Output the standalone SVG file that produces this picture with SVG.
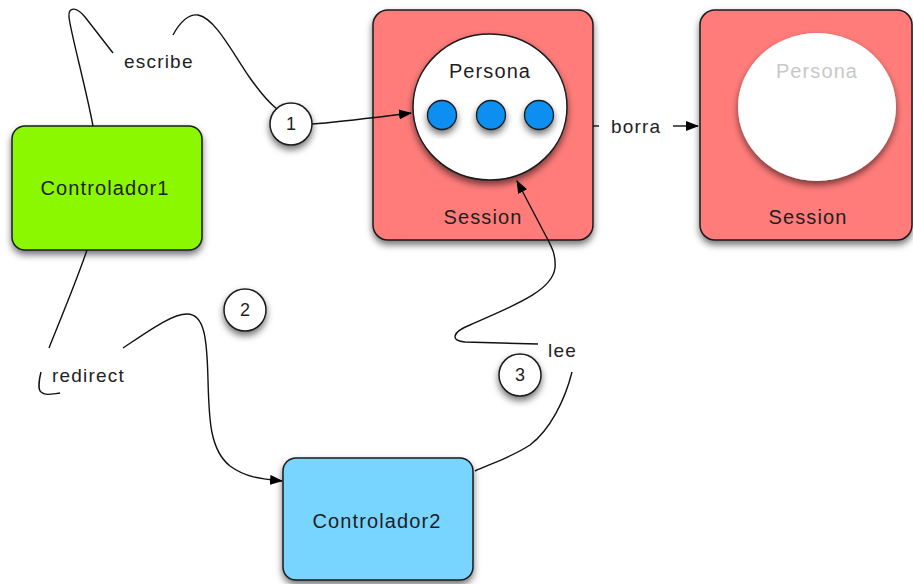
<svg xmlns="http://www.w3.org/2000/svg" width="913" height="584" viewBox="0 0 913 584">
<defs>
<filter id="sh" x="-20%" y="-20%" width="140%" height="150%">
<feDropShadow dx="0" dy="4" stdDeviation="3.5" flood-color="#000" flood-opacity="0.55"/>
</filter>
<marker id="arr" markerWidth="13" markerHeight="10" refX="12" refY="5" orient="auto" markerUnits="userSpaceOnUse">
<path d="M0,0 L13,5 L0,10 Z" fill="#000"/>
</marker>
<style>
.box{stroke:#1a1a1a;stroke-width:1.5;filter:url(#sh)}
.t{font-family:"Liberation Sans",Arial,sans-serif;font-size:20px;letter-spacing:1.1px;fill:#1e1e1e;text-anchor:middle}
.lbl{font-family:"Liberation Sans",Arial,sans-serif;font-size:19px;letter-spacing:1.2px;fill:#222}
.num{font-family:"Liberation Sans",Arial,sans-serif;font-size:18px;fill:#1e1e1e;text-anchor:middle}
.c{fill:none;stroke:#111;stroke-width:1.4}
.nc{fill:#fff;stroke:#1a1a1a;stroke-width:1.5;filter:url(#sh)}
.dot{fill:#0a8ff2;stroke:#1a1a1a;stroke-width:1.3;filter:url(#sh)}
</style>
</defs>
<rect width="913" height="584" fill="#fff"/>

<g id="controlador1">
<rect class="box" x="12" y="126" width="190" height="124" rx="13" fill="#8cf800"/>
<text class="t" x="105" y="195">Controlador1</text>
</g>

<g id="controlador2">
<rect class="box" x="283" y="458" width="190" height="122" rx="13" fill="#78d5ff"/>
<text class="t" x="377" y="528">Controlador2</text>
</g>

<g id="session1">
<rect class="box" x="373" y="10" width="220" height="230" rx="15" fill="#ff7c7a"/>
<ellipse class="nc" cx="490" cy="107" rx="77" ry="73"/>
<text class="t" x="490" y="78">Persona</text>
<circle class="dot" cx="442" cy="115" r="14.5"/>
<circle class="dot" cx="491" cy="115" r="14.5"/>
<circle class="dot" cx="539" cy="115" r="14.5"/>
<text class="t" x="483" y="224">Session</text>
</g>

<g id="session2">
<rect class="box" x="700" y="10" width="212" height="230" rx="15" fill="#ff7c7a"/>
<ellipse cx="817" cy="107" rx="79" ry="74" fill="#fff" filter="url(#sh)"/>
<text class="t" x="817" y="78" style="fill:#c8c8c8">Persona</text>
<text class="t" x="808" y="224">Session</text>
</g>

<g id="connectors">
<path class="c" d="M93,126 C86,88 70,30 69,17 C68,6 77,7 85,17 L113,53"/>
<path class="c" d="M173,35 C180,22 189,14 198,15 C215,18 232,52 250,78 C262,95 268,102 277,109"/>
<path class="c" d="M312,124 C340,122 370,118 411,113" marker-end="url(#arr)"/>
<path class="c" d="M593,126 L599,126"/>
<path class="c" d="M673,126 L698,126" marker-end="url(#arr)"/>
<path class="c" d="M87,250 C75,285 60,320 49,348"/>
<path class="c" d="M41,372 C39,380 38,390 41,392 C45,396 52,394 60,393"/>
<path class="c" d="M123,348 C150,330 172,314 187,314 C205,314 207,340 208,380 C209,420 210,450 230,466 C245,477 260,479 282,481" marker-end="url(#arr)"/>
<path class="c" d="M572,372 C565,400 550,430 530,445 C510,458 490,464 475,471"/>
<path class="c" d="M538,344 L465,342 C450,341 452,332 470,325 C510,307 552,292 555,268 C556,255 552,248 548,240 L517,181" marker-end="url(#arr)"/>
</g>

<g id="step1">
<circle class="nc" cx="291" cy="124" r="21"/>
<text class="num" x="291" y="130">1</text>
</g>
<g id="step2">
<circle class="nc" cx="245" cy="310" r="21"/>
<text class="num" x="245" y="316">2</text>
</g>
<g id="step3">
<circle class="nc" cx="520" cy="375" r="21"/>
<text class="num" x="520" y="381">3</text>
</g>

<g id="labels">
<text class="lbl" x="124" y="68">escribe</text>
<text class="lbl" x="52" y="382">redirect</text>
<text class="lbl" x="548" y="357">lee</text>
<text class="lbl" x="611" y="133">borra</text>
</g>
</svg>
